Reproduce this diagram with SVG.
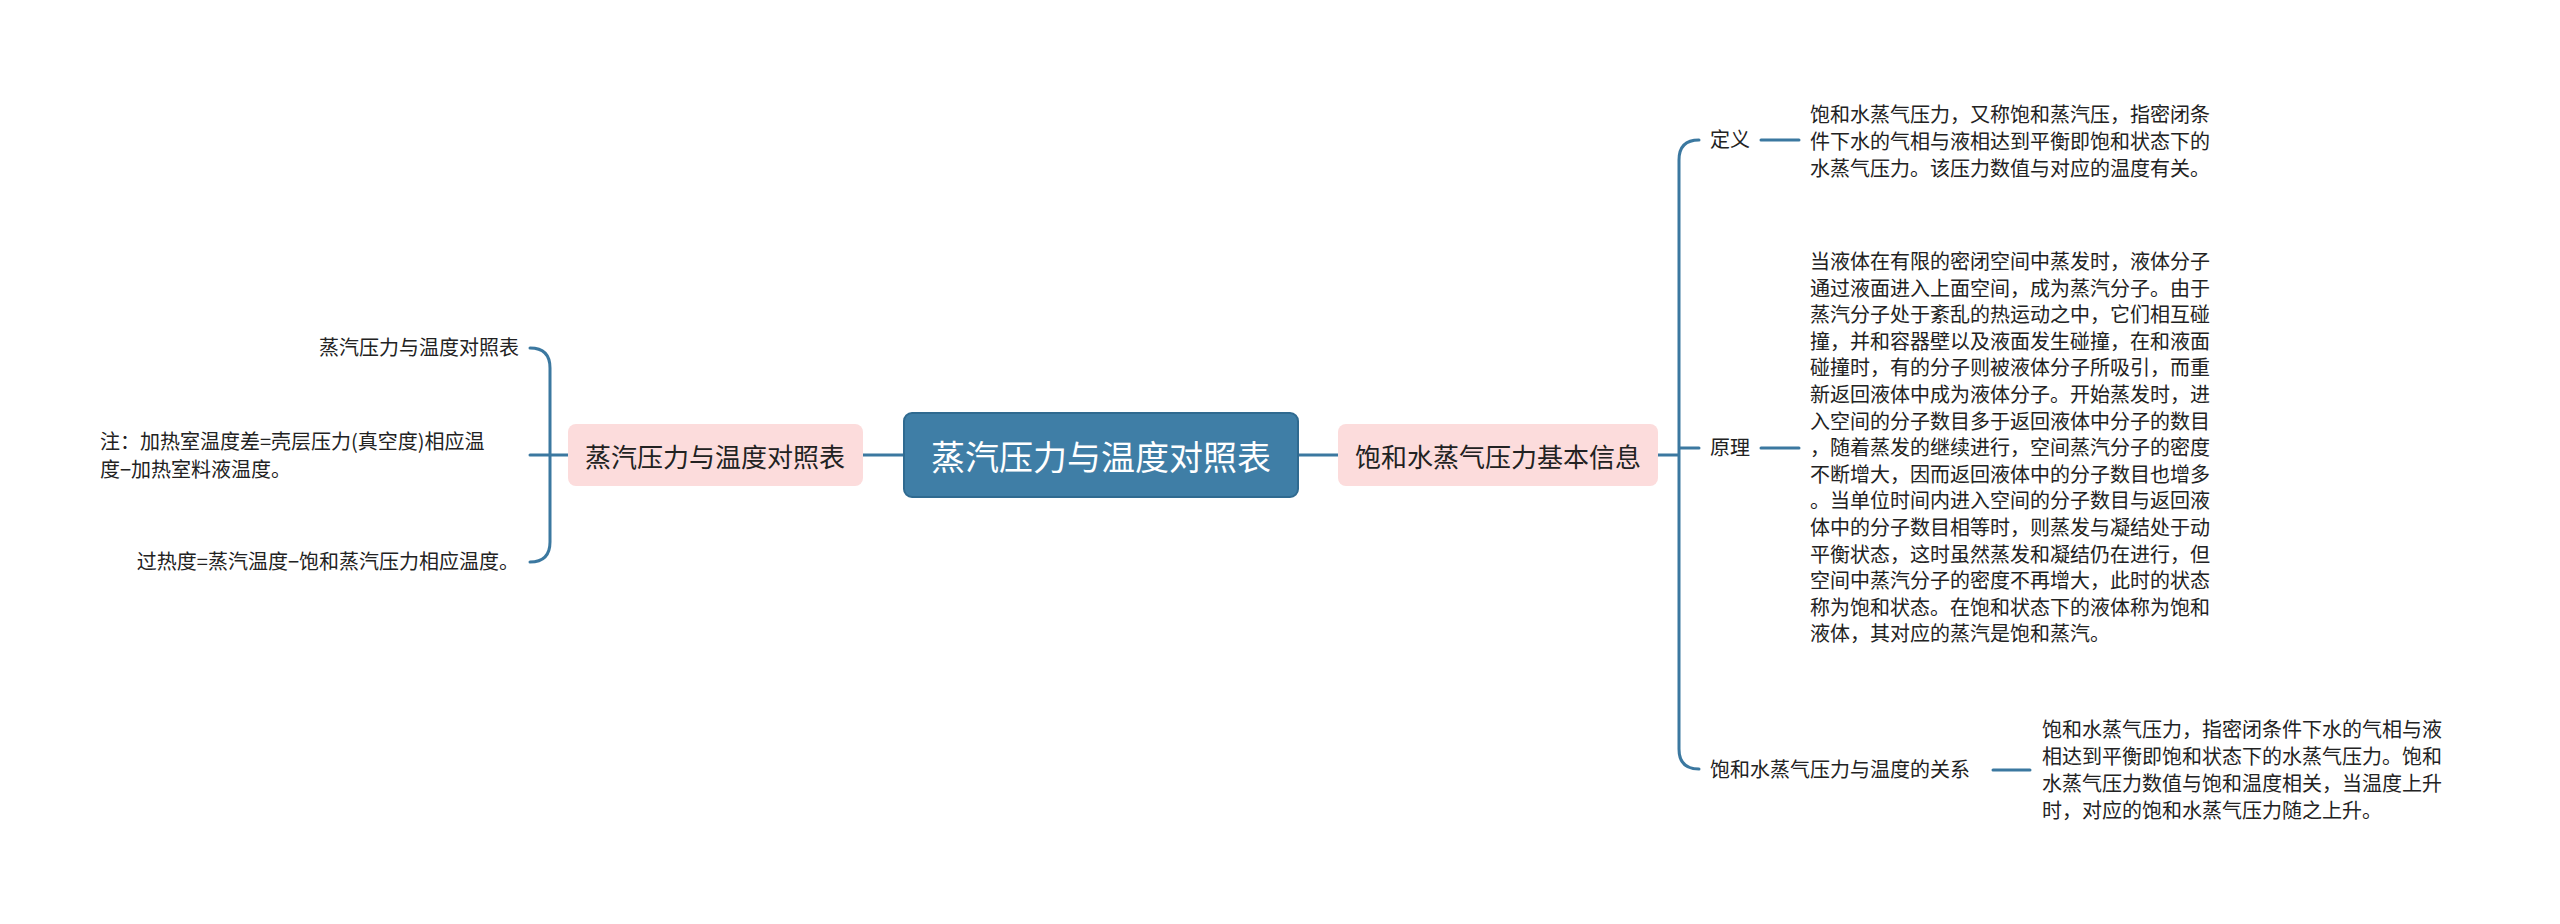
<svg xmlns="http://www.w3.org/2000/svg" width="2560" height="924" viewBox="0 0 2560 924">
<style>
text{font-family:"Noto Sans CJK SC","Noto Sans",sans-serif;fill:#222}
.c{fill:none;stroke:#3b78a0;stroke-width:3;stroke-linecap:round}
.leaf{font-size:20px}
.sub{font-size:26px;text-anchor:middle;dominant-baseline:central}
.pink{fill:#fcdcdc}
</style>
<rect width="2560" height="924" fill="#fff"/>
<g id="connectors">
<path class="c" d="M863 455H904M1298 455H1338"/>
<path class="c" d="M568 455H530M530 348Q550 348 550 368V542Q550 562 530 562"/>
<path class="c" d="M1658 455H1679M1699 140Q1679 140 1679 160V749Q1679 769 1699 769M1679 448H1699"/>
<path class="c" d="M1761 140H1799M1761 448H1799M1993 770H2030"/>
</g>
<g id="root">
<rect x="904" y="413" width="394" height="84" rx="8" fill="#3f7ea6" stroke="#2f6a90" stroke-width="2"/>
<text x="1101" y="455" font-size="34" text-anchor="middle" dominant-baseline="central" style="fill:#fff">蒸汽压力与温度对照表</text>
</g>
<g id="left">
<rect class="pink" x="568" y="424" width="295" height="62" rx="8"/>
<text class="sub" x="715" y="455">蒸汽压力与温度对照表</text>
</g>
<g id="right">
<rect class="pink" x="1338" y="424" width="320" height="62" rx="8"/>
<text class="sub" x="1498" y="455">饱和水蒸气压力基本信息</text>
</g>
<g id="leftleaves" class="leaf" text-anchor="end">
<text x="519" y="355">蒸汽压力与温度对照表</text>
<text x="500" y="450" text-anchor="start"></text>
<text text-anchor="start"><tspan x="100" y="449">注：加热室温度差=壳层压力(真空度)相应温</tspan><tspan x="100" y="477">度−加热室料液温度。</tspan></text>
<text x="519" y="569">过热度=蒸汽温度−饱和蒸汽压力相应温度。</text>
</g>
<g id="labels" class="leaf">
<text x="1710" y="147">定义</text>
<text x="1710" y="455">原理</text>
<text x="1710" y="777">饱和水蒸气压力与温度的关系</text>
</g>
<g id="def" class="leaf">
<text><tspan x="1810" y="122">饱和水蒸气压力，又称饱和蒸汽压，指密闭条</tspan><tspan x="1810" y="149">件下水的气相与液相达到平衡即饱和状态下的</tspan><tspan x="1810" y="176">水蒸气压力。该压力数值与对应的温度有关。</tspan></text>
</g>
<g id="principle" class="leaf">
<text><tspan x="1810" y="269">当液体在有限的密闭空间中蒸发时，液体分子</tspan><tspan x="1810" y="295.6">通过液面进入上面空间，成为蒸汽分子。由于</tspan><tspan x="1810" y="322.2">蒸汽分子处于紊乱的热运动之中，它们相互碰</tspan><tspan x="1810" y="348.8">撞，并和容器壁以及液面发生碰撞，在和液面</tspan><tspan x="1810" y="375.4">碰撞时，有的分子则被液体分子所吸引，而重</tspan><tspan x="1810" y="402">新返回液体中成为液体分子。开始蒸发时，进</tspan><tspan x="1810" y="428.6">入空间的分子数目多于返回液体中分子的数目</tspan><tspan x="1810" y="455.2">，随着蒸发的继续进行，空间蒸汽分子的密度</tspan><tspan x="1810" y="481.8">不断增大，因而返回液体中的分子数目也增多</tspan><tspan x="1810" y="508.4">。当单位时间内进入空间的分子数目与返回液</tspan><tspan x="1810" y="535">体中的分子数目相等时，则蒸发与凝结处于动</tspan><tspan x="1810" y="561.6">平衡状态，这时虽然蒸发和凝结仍在进行，但</tspan><tspan x="1810" y="588.2">空间中蒸汽分子的密度不再增大，此时的状态</tspan><tspan x="1810" y="614.8">称为饱和状态。在饱和状态下的液体称为饱和</tspan><tspan x="1810" y="641.4">液体，其对应的蒸汽是饱和蒸汽。</tspan></text>
</g>
<g id="relation" class="leaf">
<text><tspan x="2042" y="737">饱和水蒸气压力，指密闭条件下水的气相与液</tspan><tspan x="2042" y="764">相达到平衡即饱和状态下的水蒸气压力。饱和</tspan><tspan x="2042" y="791">水蒸气压力数值与饱和温度相关，当温度上升</tspan><tspan x="2042" y="818">时，对应的饱和水蒸气压力随之上升。</tspan></text>
</g>
</svg>
